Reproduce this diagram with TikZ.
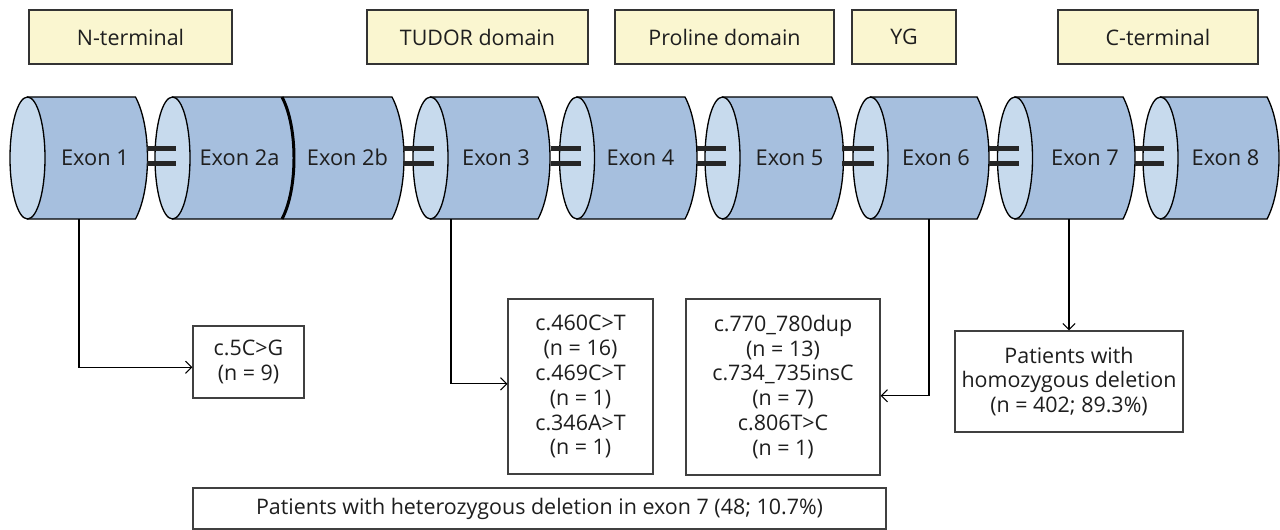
\documentclass[tikz,border=0pt]{standalone}
\usepackage{fontspec}
\setmainfont{Open Sans}
\usepackage{tikz}
\usetikzlibrary{arrows.meta}
\usetikzlibrary{positioning}

\definecolor{exonblue}{RGB}{166,191,222}
\definecolor{exonend}{RGB}{199,218,237}
\definecolor{domainfill}{RGB}{250,246,208}
\definecolor{txtgray}{RGB}{30,30,30}

\begin{document}
\begin{tikzpicture}[x=0.02cm, y=-0.02cm, font=\fontsize{12.2}{14.2}\selectfont, text=txtgray]
    \useasboundingbox (0,0) rectangle (1280,530);

    % protein domains
    \begin{scope}[every node/.style={draw=black!80, line width=0.7pt, fill=domainfill, minimum height=1.08cm, inner sep=0pt}]
        \node[minimum width=4.06cm] (nterm) at (130.5,37) {N-terminal};
        \node[minimum width=4.42cm] (tudor) at (477.5,37) {TUDOR domain};
        \node[minimum width=4.38cm] (proline) at (724.5,37) {Proline domain};
        \node[minimum width=2.08cm] (yg) at (904,37) {YG};
        \node[minimum width=4.0cm] (cterm) at (1158,37) {C-terminal};
    \end{scope}

    % exon cylinders
    \foreach \cx/\r in {27.5/108, 172.5/219.5, 430.5/107.5, 577/108, 722.5/109, 870.5/106.5, 1015/108, 1160.5/106.5} {
        \draw[fill=exonblue, line width=0.75pt] (\cx,97) -- (\cx+\r,97)
            .. controls (\cx+\r+16,127) and (\cx+\r+16,189) .. (\cx+\r,219) -- (\cx,219) -- cycle;
        \draw[fill=exonend, line width=0.75pt] (\cx,158) ellipse [x radius=0.35cm, y radius=1.22cm];
    }
    \draw[line width=1.7pt] (282,97) .. controls (298,127) and (298,189) .. (282,219);

    % junctions
    \foreach \a/\b in {147/176, 403/434, 551/581, 697/726, 842/874, 989/1019, 1135/1164} {
        \draw[line width=2.8pt, black!85] (\a,148.5) -- (\b,148.5) (\a,163.5) -- (\b,163.5);
    }

    \begin{scope}[every node/.style={anchor=base, font=\fontsize{12.4}{14}\selectfont}]
        \node (ex1) at (95,166) {Exon 1};
        \node (ex2a) at (239.5,166) {Exon 2a};
        \node (ex2b) at (347.5,166) {Exon 2b};
        \node (ex3) at (496,166) {Exon 3};
        \node (ex4) at (640.5,166) {Exon 4};
        \node (ex5) at (789.5,166) {Exon 5};
        \node (ex6) at (936,166) {Exon 6};
        \node (ex7) at (1085,166) {Exon 7};
        \node (ex8) at (1225.5,166) {Exon 8};
    \end{scope}

    \coordinate (s1) at (79,219);
    \coordinate (s3) at (451,219);
    \coordinate (s6) at (929,219);
    \coordinate (s7) at (1069,219);

    % findings
    \begin{scope}[every node/.style={draw=black!75, line width=0.7pt, fill=white, align=center, inner sep=0pt}]
        \node[minimum width=2.22cm, minimum height=1.44cm] (mut1) at (248.5,362) {c.5C>G\\(n = 9)};
        \node[minimum width=2.9cm, minimum height=3.5cm] (mut2) at (580.5,386.5)
            {c.460C>T\\(n = 16)\\c.469C>T\\(n = 1)\\c.346A>T\\(n = 1)};
        \node[minimum width=3.88cm, minimum height=3.52cm] (mut3) at (783,387)
            {c.770\_780dup\\(n = 13)\\c.734\_735insC\\(n = 7)\\c.806T>C\\(n = 1)};
        \node[minimum width=4.56cm, minimum height=2.02cm] (homo) at (1069,381.5)
            {Patients with\\homozygous deletion\\(n = 402; 89.3\%)};
        \node[minimum width=13.86cm, minimum height=0.82cm] (hetero) at (539.5,508.5)
            {Patients with heterozygous deletion in exon 7 (48; 10.7\%)};
    \end{scope}

    \begin{scope}[>={Straight Barb[length=3.5pt, width=7pt]}, line width=0.6pt]
        \draw[->] (s1) |- ([yshift=-3pt]mut1.west);
        \draw[->] (s3) |- ([yshift=1.5pt]mut2.west);
        \draw[->] (s6) |- ([yshift=-5pt]mut3.east);
        \draw[->] (s7) -- (homo);
    \end{scope}
\end{tikzpicture}
\end{document}
